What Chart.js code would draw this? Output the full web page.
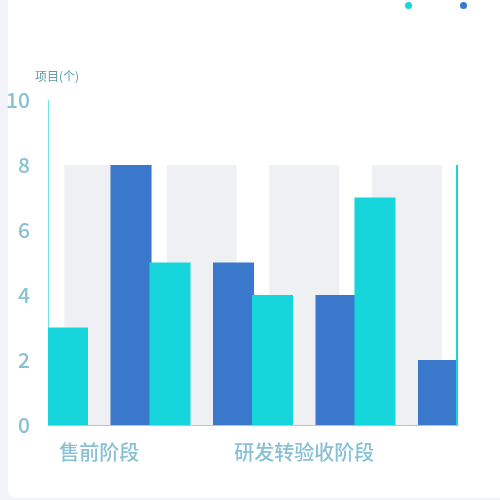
<!DOCTYPE html>
<html>
<head>
<meta charset="utf-8">
<script src="https://cdn.jsdelivr.net/npm/chart.js@4.4.0/dist/chart.umd.min.js"></script>
<style>
    html, body { margin: 0; padding: 0; width: 500px; height: 500px; overflow: hidden; background: #f2f3f8; }
    .card { position: absolute; left: 8px; top: -8px; width: 500px; height: 506px; background: #fff; border-radius: 8px; }
    #chart { position: absolute; left: 0; top: 0; }
    #legend { position: absolute; top: 2px; left: 0; width: 500px; height: 10px; }
    #legend span { position: absolute; top: 0; width: 7px; height: 7px; border-radius: 50%; }
</style>
</head>
<body>
<div class="card"></div>
<canvas id="chart" width="500" height="500"></canvas>
<div id="legend"></div>
<script>
    'use strict';

    var categories = ['售前阶段', '', '研发转验收阶段', ''];
    var seriesCyan = [3, 5, 4, 7];
    var seriesBlue = [8, 5, 4, 2];
    var shadowValues = [8, 8, 8, 8];
    var yTicks = [0, 2, 4, 6, 8, 10];
    var axisName = '项目(个)';
    var edgeMarkValue = 8;

    var CYAN = '#16d6db';
    var BLUE = '#3a78cc';
    var SHADOW = '#eef0f4';
    var TICK_COLOR = '#88c0d4';
    var AXIS_LINE = '#6fe3e8';

    Chart.defaults.font.family = '"Noto Sans CJK SC", "Noto Sans", sans-serif';

    // axis name above the y axis + thin cyan edge line at the right side
    var extras = {
        id: 'extras',
        afterDatasetsDraw: function (chart) {
            var ctx = chart.ctx;
            var area = chart.chartArea;
            var y = chart.scales.y;
            ctx.save();
            ctx.strokeStyle = CYAN;
            ctx.lineWidth = 2;
            ctx.beginPath();
            ctx.moveTo(area.right - 1, y.getPixelForValue(edgeMarkValue));
            ctx.lineTo(area.right - 1, area.bottom);
            ctx.stroke();

            ctx.fillStyle = '#5f9cab';
            ctx.font = '12px "Noto Sans CJK SC", sans-serif';
            ctx.textAlign = 'center';
            ctx.textBaseline = 'middle';
            ctx.fillText(axisName, area.left + 9, area.top - 24);
            ctx.restore();
        }
    };

    var chart = new Chart(document.getElementById('chart').getContext('2d'), {
        type: 'bar',
        data: {
            labels: categories,
            datasets: [
                {
                    label: 'A',
                    data: seriesCyan,
                    backgroundColor: CYAN,
                    categoryPercentage: 1.24,
                    barPercentage: 0.646,
                    clip: 0,
                    order: 0
                },
                {
                    label: 'B',
                    data: seriesBlue,
                    backgroundColor: BLUE,
                    categoryPercentage: 1.24,
                    barPercentage: 0.646,
                    clip: 0,
                    order: 0
                },
                {
                    label: 'shadow',
                    data: shadowValues,
                    backgroundColor: SHADOW,
                    grouped: false,
                    categoryPercentage: 1,
                    barPercentage: 0.683,
                    clip: 0,
                    order: 1
                }
            ]
        },
        options: {
            responsive: false,
            animation: false,
            layout: {padding: {top: 100, right: 42, left: 0, bottom: 0}},
            plugins: {
                legend: {display: false},
                tooltip: {enabled: false}
            },
            scales: {
                x: {
                    grid: {display: false, drawTicks: false},
                    border: {display: true, color: AXIS_LINE, width: 1},
                    ticks: {
                        color: TICK_COLOR,
                        font: {size: 20, weight: '500'},
                        padding: 15,
                        maxRotation: 0,
                        minRotation: 0,
                        autoSkip: false
                    },
                    afterFit: function (scale) { scale.height = 75; }
                },
                y: {
                    min: yTicks[0],
                    max: yTicks[yTicks.length - 1],
                    grid: {display: false, drawTicks: false},
                    border: {display: true, color: AXIS_LINE, width: 1},
                    afterBuildTicks: function (scale) {
                        scale.ticks = yTicks.map(function (v) { return {value: v}; });
                    },
                    ticks: {
                        color: TICK_COLOR,
                        font: {size: 21, weight: '500'},
                        padding: 18
                    },
                    afterFit: function (scale) { scale.width = 48; }
                }
            }
        },
        plugins: [extras]
    });

    // html legend: only the dots, from the two real series
    var legend = document.getElementById('legend');
    var dotX = [405, 460];
    chart.data.datasets.slice(0, 2).forEach(function (ds, i) {
        var dot = document.createElement('span');
        dot.style.left = dotX[i] + 'px';
        dot.style.background = ds.backgroundColor;
        dot.title = ds.label;
        legend.appendChild(dot);
    });
</script>
</body>
</html>
